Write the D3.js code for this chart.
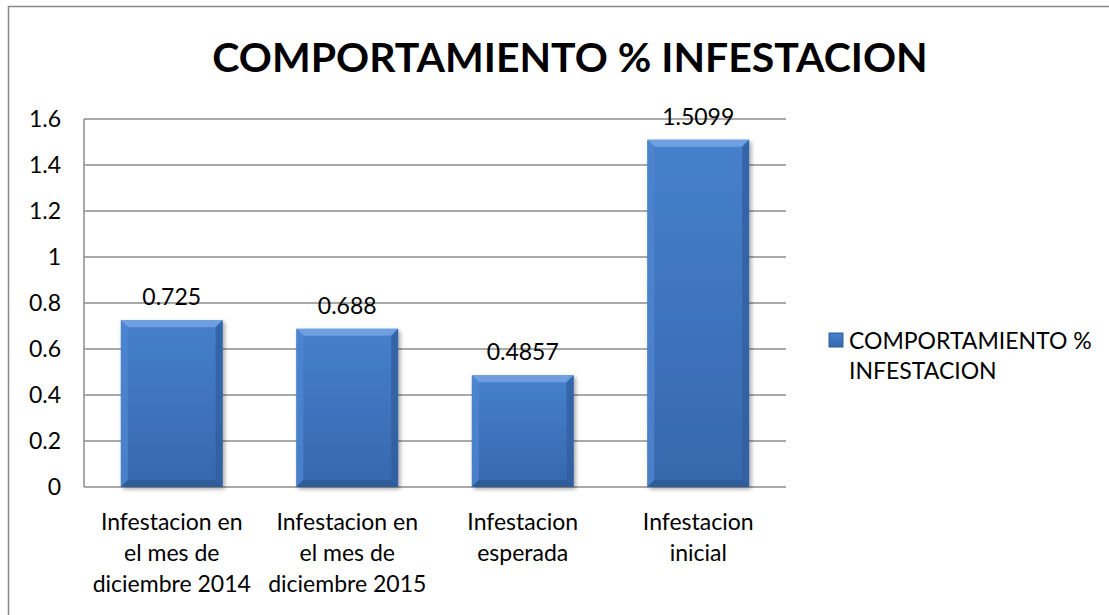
<!DOCTYPE html>
<html>
<head>
<meta charset="utf-8">
<script src="https://cdn.jsdelivr.net/npm/d3@7"></script>
<style>
  body { margin: 0; background: #fff; }
  text { font-family: Lato, "Open Sans", sans-serif; fill: #000; }
</style>
</head>
<body>
<svg width="1109" height="615"></svg>
<script>
const categories = [
    ["Infestacion en", "el mes de", "diciembre 2014"],
    ["Infestacion en", "el mes de", "diciembre 2015"],
    ["Infestacion", "esperada"],
    ["Infestacion", "inicial"]
];
const values = [0.725, 0.688, 0.4857, 1.5099];
const valueLabels = ["0.725", "0.688", "0.4857", "1.5099"];
const yTicks = [0, 0.2, 0.4, 0.6, 0.8, 1, 1.2, 1.4, 1.6];
const seriesName = ["COMPORTAMIENTO %", "INFESTACION"];
const title = "COMPORTAMIENTO % INFESTACION";

const svg = d3.select("svg");
const plot = { left: 84, right: 786, top: 119, bottom: 487 };

// outer frame (runs off the right and bottom of the picture)
svg.append("rect")
    .attr("x", 8.5).attr("y", 6.5)
    .attr("width", 1120).attr("height", 640)
    .attr("fill", "#fff").attr("stroke", "#8a8a8a").attr("stroke-width", 1.5);

const defs = svg.append("defs");
const grad = defs.append("linearGradient").attr("id", "barFill")
    .attr("x1", 0).attr("y1", 0).attr("x2", 0).attr("y2", 1);
grad.append("stop").attr("offset", 0).attr("stop-color", "#4680cc");
grad.append("stop").attr("offset", 1).attr("stop-color", "#3668ad");

const shadow = defs.append("filter").attr("id", "shadow")
    .attr("x", "-10%").attr("y", "-10%").attr("width", "130%").attr("height", "130%");
shadow.append("feDropShadow").attr("dx", 2).attr("dy", 2).attr("stdDeviation", 2)
    .attr("flood-color", "#000").attr("flood-opacity", 0.35);

const x = d3.scaleBand()
    .domain(d3.range(categories.length))
    .range([plot.left, plot.right])
    .paddingInner(0.42).paddingOuter(0.21);

const y = d3.scaleLinear().domain([0, 1.6]).range([plot.bottom, plot.top]);

// title
svg.append("text")
    .attr("x", 570).attr("y", 72)
    .attr("text-anchor", "middle")
    .style("font-size", "41px").style("font-weight", "bold")
    .text(title);

// gridlines
svg.append("g").selectAll("line")
    .data(yTicks.filter(d => d > 0))
    .join("line")
    .attr("x1", plot.left).attr("x2", plot.right)
    .attr("y1", d => y(d)).attr("y2", d => y(d))
    .attr("stroke", "#8c8c8c").attr("stroke-width", 1.5);

// axis lines
svg.append("line")
    .attr("x1", plot.left).attr("x2", plot.left)
    .attr("y1", plot.top).attr("y2", plot.bottom)
    .attr("stroke", "#8c8c8c").attr("stroke-width", 1.5);
svg.append("line")
    .attr("x1", plot.left).attr("x2", plot.right)
    .attr("y1", plot.bottom).attr("y2", plot.bottom)
    .attr("stroke", "#8c8c8c").attr("stroke-width", 1.5);

// y tick labels
svg.append("g").selectAll("text")
    .data(yTicks)
    .join("text")
    .attr("x", 61).attr("y", d => y(d) + 8)
    .attr("text-anchor", "end")
    .style("font-size", "23px")
    .text(d => d3.format("")(d));

// bars with bevel
const bev = 7;
const bars = svg.append("g").selectAll("g")
    .data(values)
    .join("g")
    .attr("filter", "url(#shadow)");

bars.append("rect")
    .attr("x", (d, i) => x(i))
    .attr("y", d => y(d))
    .attr("width", x.bandwidth())
    .attr("height", d => plot.bottom - y(d))
    .attr("fill", "url(#barFill)");

function bevel(d, i, side) {
    const x0 = x(i), x1 = x(i) + x.bandwidth(), y0 = y(d), y1 = plot.bottom;
    const pts = {
        top: [[x0, y0], [x1, y0], [x1 - bev, y0 + bev], [x0 + bev, y0 + bev]],
        left: [[x0, y0], [x0 + bev, y0 + bev], [x0 + bev, y1 - bev], [x0, y1]],
        right: [[x1, y0], [x1, y1], [x1 - bev, y1 - bev], [x1 - bev, y0 + bev]],
        bottom: [[x0, y1], [x0 + bev, y1 - bev], [x1 - bev, y1 - bev], [x1, y1]]
    };
    return pts[side].join(" ");
}
const bevelColors = { top: "#78a6e4", left: "#4f86d0", right: "#325f9f", bottom: "#2d5794" };
Object.keys(bevelColors).forEach(side => {
    bars.append("polygon")
        .attr("points", (d, i) => bevel(d, i, side))
        .attr("fill", bevelColors[side])
        .attr("opacity", 0.8);
});

// value labels
svg.append("g").selectAll("text")
    .data(values)
    .join("text")
    .attr("x", (d, i) => x(i) + x.bandwidth() / 2)
    .attr("y", d => y(d) - 15)
    .attr("text-anchor", "middle")
    .style("font-size", "23px")
    .text((d, i) => valueLabels[i]);

// category labels
const cat = svg.append("g").selectAll("text")
    .data(categories)
    .join("text")
    .attr("x", (d, i) => x(i) + x.bandwidth() / 2)
    .attr("y", 530)
    .attr("text-anchor", "middle")
    .style("font-size", "23px");
cat.selectAll("tspan")
    .data(d => d)
    .join("tspan")
    .attr("x", function () { return this.parentNode.getAttribute("x"); })
    .attr("dy", (d, j) => j === 0 ? 0 : 31)
    .text(d => d);

// legend
svg.append("rect")
    .attr("x", 829).attr("y", 333).attr("width", 14).attr("height", 14)
    .attr("fill", "url(#barFill)").attr("stroke", "#2f5d9c").attr("stroke-width", 1);
svg.append("text")
    .attr("x", 849).attr("y", 349)
    .style("font-size", "23px")
    .selectAll("tspan")
    .data(seriesName)
    .join("tspan")
    .attr("x", 849)
    .attr("dy", (d, j) => j === 0 ? 0 : 30)
    .text(d => d);
</script>
</body>
</html>
